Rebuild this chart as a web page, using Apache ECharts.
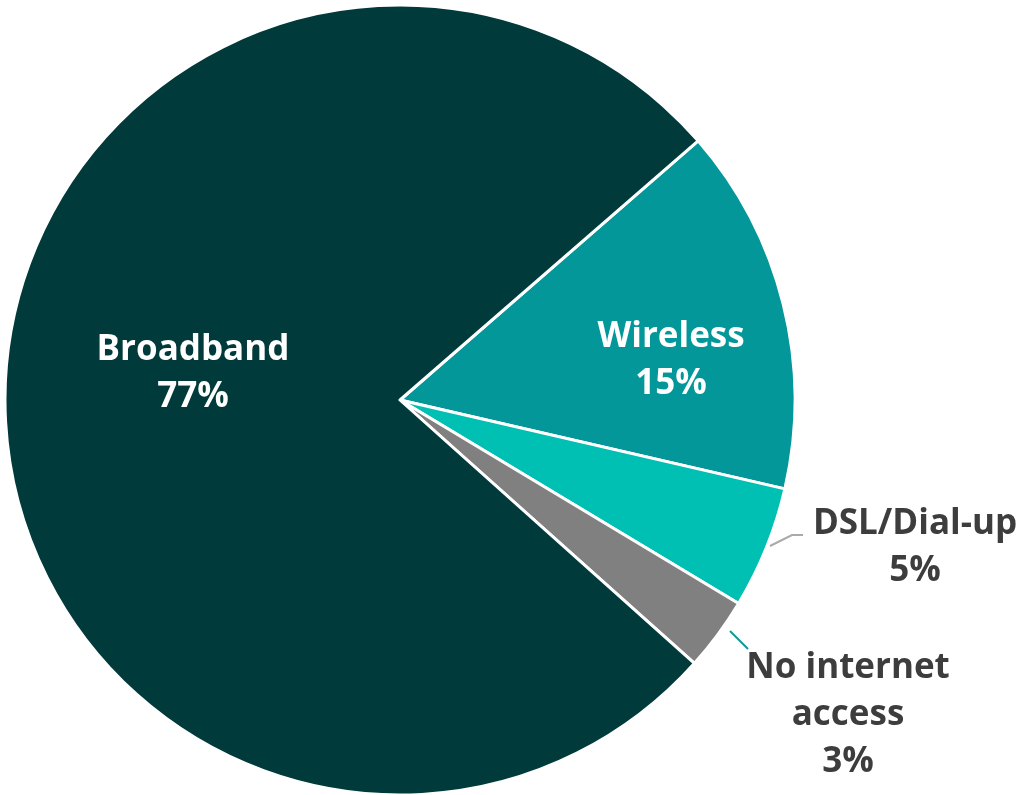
<!DOCTYPE html>
<html>
<head>
<meta charset="utf-8">
<script src="https://cdn.jsdelivr.net/npm/echarts@6/dist/echarts.min.js"></script>
<style>
  html, body { margin: 0; padding: 0; background: #ffffff; }
  #chart { width: 1023px; height: 795px; }
</style>
</head>
<body>
<div id="chart"></div>
<script>
// Household internet access by connection type (percent)
const categories = ['Wireless', 'DSL/Dial-up', 'No internet\naccess', 'Broadband'];
const shares = [15, 5, 3, 77];
const sliceColors = ['#03979a', '#00bfb3', '#808080', '#003a3a'];
const leaderColors = [null, '#aaaaaa', '#0a9a9a', null];
const insideSlice = [true, false, false, true];

// label anchor points (centre of each text block)
const labelAnchors = [[671, 361], [915, 548], [848, 715], [193, 374]];
// leader line paths for the outside labels
const leaderPaths = [
  null,
  [[770, 546], [792, 535], [803, 535]],
  [[730, 631], [748, 649], [748, 649]],
  null
];

const FONT = '"Open Sans", "DejaVu Sans", sans-serif';

const chart = echarts.init(document.getElementById('chart'));

const data = categories.map((name, i) => ({
  name: name,
  value: shares[i],
  itemStyle: { color: sliceColors[i] },
  label: {
    position: insideSlice[i] ? 'inside' : 'outside',
    color: insideSlice[i] ? '#ffffff' : '#3d3d3d'
  },
  labelLine: {
    show: !insideSlice[i],
    lineStyle: { color: leaderColors[i] || '#aaaaaa', width: 2 }
  }
}));

chart.setOption({
  animation: false,
  series: [{
    type: 'pie',
    center: [400, 400],
    radius: [0, 395],
    startAngle: 41,
    clockwise: true,
    avoidLabelOverlap: false,
    data: data,
    itemStyle: { borderColor: '#ffffff', borderWidth: 3 },
    label: {
      show: true,
      formatter: '{b}\n{c}%',
      fontFamily: FONT,
      fontWeight: 'bold',
      fontSize: 35,
      lineHeight: 47,
      align: 'center'
    },
    labelLine: { show: true, length: 20, length2: 15 },
    labelLayout: function (params) {
      const i = params.dataIndex;
      const a = labelAnchors[i];
      const out = {
        x: a[0],
        y: a[1],
        align: 'center',
        verticalAlign: 'middle',
        hideOverlap: false
      };
      if (leaderPaths[i]) {
        out.labelLinePoints = leaderPaths[i];
      }
      return out;
    }
  }]
});
</script>
</body>
</html>
